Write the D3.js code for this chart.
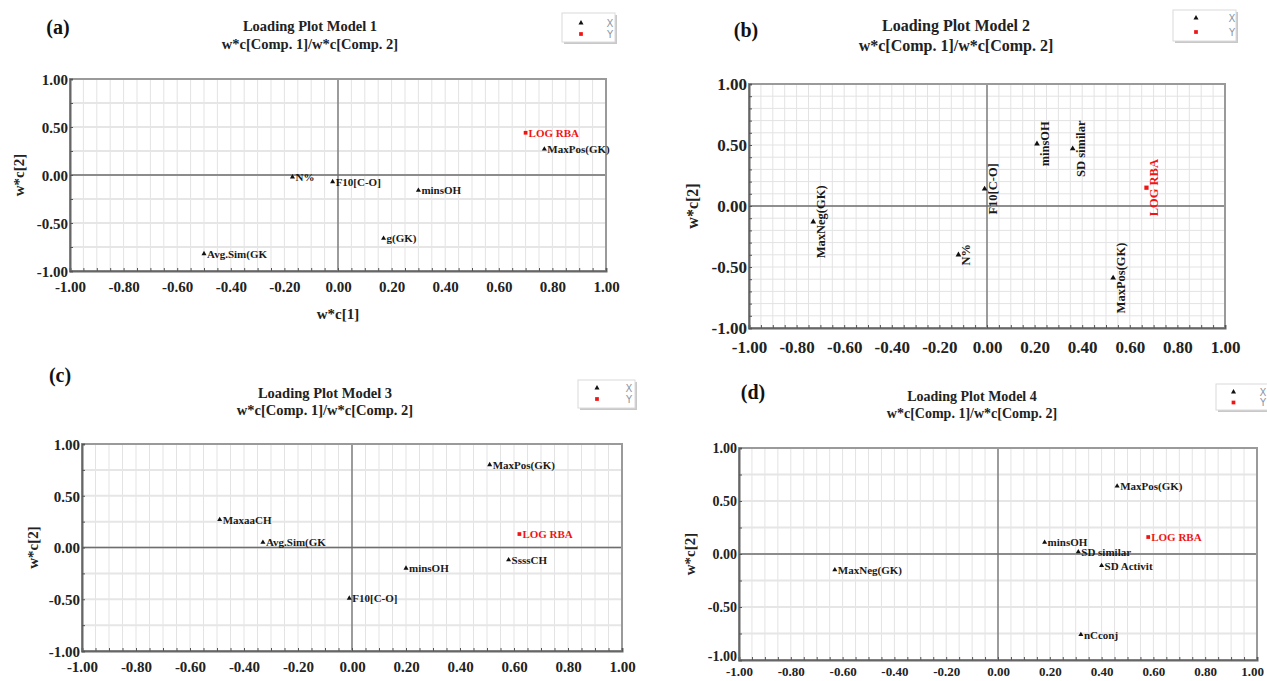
<!DOCTYPE html>
<html><head><meta charset="utf-8">
<script src="https://cdn.jsdelivr.net/npm/d3@7"></script>
<style>
body{margin:0;background:#fff;}
svg text{font-family:"Liberation Serif","Times New Roman",serif;font-weight:bold;}
</style></head><body>
<svg id="chart" width="1267" height="681"></svg>
<script>
// ---------- data ----------
const xTickValues = [-1.00,-0.80,-0.60,-0.40,-0.20,0.00,0.20,0.40,0.60,0.80,1.00];
const yTickValues = [-1.00,-0.50,0.00,0.50,1.00];
const titleLine1 = ["Loading Plot Model 1","Loading Plot Model 2","Loading Plot Model 3","Loading Plot Model 4"];
const titleLine2 = "w*c[Comp. 1]/w*c[Comp. 2]";
const panelTags = ["(a)","(b)","(c)","(d)"];
const legendNames = ["X","Y"];

// Model 1
const m1Names = ["N%","F10[C-O]","minsOH","g(GK)","MaxPos(GK)","Avg.Sim(GK"];
const m1W1 = [-0.17,-0.02,0.30,0.17,0.77,-0.50];
const m1W2 = [-0.02,-0.07,-0.16,-0.66,0.27,-0.82];
const m1YNames = ["LOG RBA"];
const m1YW1 = [0.70];
const m1YW2 = [0.44];

// Model 2
const m2Names = ["MaxNeg(GK)","N%","F10[C-O]","minsOH","SD similar","MaxPos(GK)"];
const m2W1 = [-0.73,-0.12,-0.01,0.21,0.36,0.53];
const m2W2 = [-0.13,-0.40,0.14,0.51,0.47,-0.59];
const m2YNames = ["LOG RBA"];
const m2YW1 = [0.67];
const m2YW2 = [0.15];

// Model 3
const m3Names = ["MaxPos(GK)","MaxaaCH","Avg.Sim(GK","SsssCH","minsOH","F10[C-O]"];
const m3W1 = [0.51,-0.49,-0.33,0.58,0.20,-0.01];
const m3W2 = [0.80,0.27,0.05,-0.12,-0.20,-0.49];
const m3YNames = ["LOG RBA"];
const m3YW1 = [0.62];
const m3YW2 = [0.13];

// Model 4
const m4Names = ["MaxPos(GK)","minsOH","SD similar","SD Activit","MaxNeg(GK)","nCconj"];
const m4W1 = [0.46,0.18,0.31,0.40,-0.63,0.32];
const m4W2 = [0.64,0.11,0.02,-0.11,-0.15,-0.76];
const m4YNames = ["LOG RBA"];
const m4YW1 = [0.58];
const m4YW2 = [0.16];

// ---------- layout ----------
const panels = [
  {x0:70,x1:606,y0:79,y1:271, tagX:58,tagY:27, tX:310,tY:[26,44], tSize:14.5, tick:15, yTickSize:15, lab:11, yLabX:18.5, yLabSize:15,
   xLab:"w*c[1]", xLabY:314, xTickY:287, rot:false, yGrid:0.25, yTick:0.25, lastDx:0, firstDy:0,
   leg:{x:562,y:13,w:53,h:29,mx:19,r1:10,r2:21,lx:48},
   names:m1Names,w1:m1W1,w2:m1W2,yn:m1YNames,yw1:m1YW1,yw2:m1YW2},
  {x0:749,x1:1225,y0:84,y1:328, tagX:746,tagY:30, tX:956,tY:[25,45], tSize:16, tick:17, yTickSize:17, lab:12.5, yLabX:692, yLabSize:16,
   xLab:null, xTickY:347, rot:true, yGrid:0.1, yTick:0.1, lastDx:0, firstDy:0,
   leg:{x:1173,y:10,w:63,h:31,mx:23,r1:8,r2:22,lx:59},
   names:m2Names,w1:m2W1,w2:m2W2,yn:m2YNames,yw1:m2YW1,yw2:m2YW2},
  {x0:82,x1:622,y0:444,y1:651, tagX:60,tagY:375, tX:325,tY:[393,410], tSize:14.5, tick:15, yTickSize:15, lab:11, yLabX:33, yLabSize:15,
   xLab:null, xTickY:667, rot:false, yGrid:0.25, yTick:0.25, lastDx:0, firstDy:0,
   leg:{x:578,y:380,w:57,h:28,mx:19,r1:8,r2:19,lx:51},
   names:m3Names,w1:m3W1,w2:m3W2,yn:m3YNames,yw1:m3YW1,yw2:m3YW2},
  {x0:739,x1:1257,y0:448,y1:660, tagX:753,tagY:392, tX:972,tY:[396,413], tSize:14, tick:13, yTickSize:14, lab:11, yLabX:690, yLabSize:15,
   xLab:null, xTickY:671, rot:false, yGrid:0.25, yTick:0.25, lastDx:-5, firstDy:-4,
   leg:{x:1216,y:384,w:53,h:26,mx:17.5,r1:8,r2:18.5,lx:47},
   names:m4Names,w1:m4W1,w2:m4W2,yn:m4YNames,yw1:m4YW1,yw2:m4YW2}
];

const svg = d3.select("#chart");
svg.append("rect").attr("width",1267).attr("height",681).attr("fill","#fff");
const fmt = d => d.toFixed(2);

panels.forEach((p,i) => {
  const g = svg.append("g");
  const x = d3.scaleLinear().domain([-1,1]).range([p.x0,p.x1]);
  const y = d3.scaleLinear().domain([-1,1]).range([p.y1,p.y0]);

  // grid
  const vGrid = d3.range(0,41).map(k => -1 + k*0.05);
  const hN = Math.round(2/p.yGrid);
  const hGrid = d3.range(0,hN+1).map(k => -1 + k*p.yGrid);
  g.append("g").selectAll("line").data(vGrid).join("line")
    .attr("x1",d=>x(d)).attr("x2",d=>x(d)).attr("y1",p.y0).attr("y2",p.y1)
    .attr("stroke","#e3e3e3").attr("stroke-width",1);
  g.append("g").selectAll("line").data(hGrid).join("line")
    .attr("x1",p.x0).attr("x2",p.x1).attr("y1",d=>y(d)).attr("y2",d=>y(d))
    .attr("stroke", p.yGrid>0.1 ? "#e6e6e6" : "#e3e3e3").attr("stroke-width", p.yGrid>0.1 ? 2 : 1);

  // zero lines
  g.append("line").attr("x1",x(0)).attr("x2",x(0)).attr("y1",p.y0).attr("y2",p.y1)
    .attr("stroke","#6e6e6e").attr("stroke-width",1.3);
  g.append("line").attr("x1",p.x0).attr("x2",p.x1).attr("y1",y(0)).attr("y2",y(0))
    .attr("stroke","#6e6e6e").attr("stroke-width",1.3);

  // frame
  g.append("rect").attr("x",p.x0).attr("y",p.y0).attr("width",p.x1-p.x0).attr("height",p.y1-p.y0)
    .attr("fill","none").attr("stroke","#9a9a9a").attr("stroke-width",2);

  // minor tick marks (inside)
  const minorX = vGrid;
  const tN = Math.round(2/p.yTick);
  const minorY = d3.range(0,tN+1).map(k => -1 + k*p.yTick);
  const axB = g.append("g").attr("transform",`translate(0,${p.y1})`)
    .call(d3.axisBottom(x).tickValues(minorX).tickSize(-3).tickFormat(""));
  axB.select(".domain").attr("stroke","#666").attr("stroke-width",2);
  axB.selectAll(".tick line").attr("stroke","#555");
  const axL = g.append("g").attr("transform",`translate(${p.x0},0)`)
    .call(d3.axisLeft(y).tickValues(minorY).tickSize(-3).tickFormat(""));
  axL.select(".domain").attr("stroke","#666").attr("stroke-width",2);
  axL.selectAll(".tick line").attr("stroke","#555");

  // labelled axes
  const axBL = g.append("g").attr("transform",`translate(0,${p.y1})`)
    .call(d3.axisBottom(x).tickValues(xTickValues).tickSize(0).tickFormat(fmt));
  axBL.select(".domain").remove();
  axBL.selectAll("text").attr("y", p.xTickY - p.y1).attr("dy","0.35em")
    .attr("dx", (d,k,arr) => k === arr.length-1 ? p.lastDx : 0)
    .style("font-family","'Liberation Serif',serif").style("font-weight","bold")
    .style("font-size", p.tick+"px").attr("fill","#222");
  const axLL = g.append("g").attr("transform",`translate(${p.x0},0)`)
    .call(d3.axisLeft(y).tickValues(yTickValues).tickSize(0).tickPadding(2).tickFormat(fmt));
  axLL.select(".domain").remove();
  axLL.selectAll("text").attr("dy","0.35em")
    .attr("y", (d,k) => k === 0 ? p.firstDy : 0)
    .style("font-family","'Liberation Serif',serif").style("font-weight","bold")
    .style("font-size", p.yTickSize+"px").attr("fill","#222");

  // axis titles
  g.append("text").attr("transform",`translate(${p.yLabX},${(p.y0+p.y1)/2}) rotate(-90)`)
    .attr("text-anchor","middle").attr("dominant-baseline","central")
    .style("font-size",p.yLabSize+"px").attr("fill","#222").text("w*c[2]");
  if (p.xLab) {
    g.append("text").attr("x",x(0)).attr("y",p.xLabY).attr("text-anchor","middle")
      .attr("dominant-baseline","central").style("font-size","15px").attr("fill","#222").text(p.xLab);
  }

  // titles
  g.append("text").attr("x",p.tagX).attr("y",p.tagY).attr("text-anchor","middle")
    .attr("dominant-baseline","central").style("font-size","20px").attr("fill","#111").text(panelTags[i]);
  g.append("text").attr("x",p.tX).attr("y",p.tY[0]).attr("text-anchor","middle")
    .attr("dominant-baseline","central").style("font-size",p.tSize+"px").attr("fill","#222").text(titleLine1[i]);
  g.append("text").attr("x",p.tX).attr("y",p.tY[1]).attr("text-anchor","middle")
    .attr("dominant-baseline","central").style("font-size",p.tSize+"px").attr("fill","#222").text(titleLine2);

  // points
  const tri = d3.symbol(d3.symbolTriangle).size(p.rot ? 14 : 11);
  const sq = d3.symbol(d3.symbolSquare).size(p.rot ? 18 : 14);
  const xs = p.names.map((n,k)=>({n, a:p.w1[k], b:p.w2[k], t:"X"}));
  const ys = p.yn.map((n,k)=>({n, a:p.yw1[k], b:p.yw2[k], t:"Y"}));
  const pts = xs.concat(ys);
  g.append("g").selectAll("path").data(pts).join("path")
    .attr("transform",d=>`translate(${x(d.a)},${y(d.b)})`)
    .attr("d",d=> d.t==="X" ? tri() : sq())
    .attr("fill",d=> d.t==="X" ? "#111" : "#f01515");
  const labs = g.append("g").selectAll("text").data(pts).join("text")
    .style("font-size",p.lab+"px")
    .attr("fill",d=> d.t==="X" ? "#1a1a1a" : "#f01515")
    .text(d=>d.n);
  if (p.rot) {
    labs.attr("transform",d=>`translate(${x(d.a)+12},${y(d.b)}) rotate(-90)`)
      .attr("text-anchor","middle");
  } else {
    labs.attr("x",d=>x(d.a)+3).attr("y",d=>y(d.b)).attr("dominant-baseline","central");
  }

  // legend
  const L = p.leg;
  const lg = g.append("g");
  lg.append("rect").attr("x",L.x+2).attr("y",L.y+2).attr("width",L.w).attr("height",L.h).attr("fill","#c8c8c8");
  lg.append("rect").attr("x",L.x).attr("y",L.y).attr("width",L.w).attr("height",L.h)
    .attr("fill","#fff").attr("stroke","#dadada").attr("stroke-width",1);
  lg.append("path").attr("transform",`translate(${L.x+L.mx},${L.y+L.r1})`).attr("d",d3.symbol(d3.symbolTriangle).size(11)()).attr("fill","#111");
  lg.append("path").attr("transform",`translate(${L.x+L.mx},${L.y+L.r2})`).attr("d",d3.symbol(d3.symbolSquare).size(14)()).attr("fill","#f01515");
  lg.selectAll("text.lt").data(legendNames).join("text").attr("class","lt")
    .attr("x",L.x+L.lx).attr("y",(d,k)=> L.y + (k===0 ? L.r1 : L.r2))
    .attr("text-anchor","middle").attr("dominant-baseline","central")
    .style("font-family","'DejaVu Sans',sans-serif").style("font-weight","normal").style("font-size","10px")
    .attr("fill","#8b98a8").text(d=>d);
});
</script>
</body></html>
